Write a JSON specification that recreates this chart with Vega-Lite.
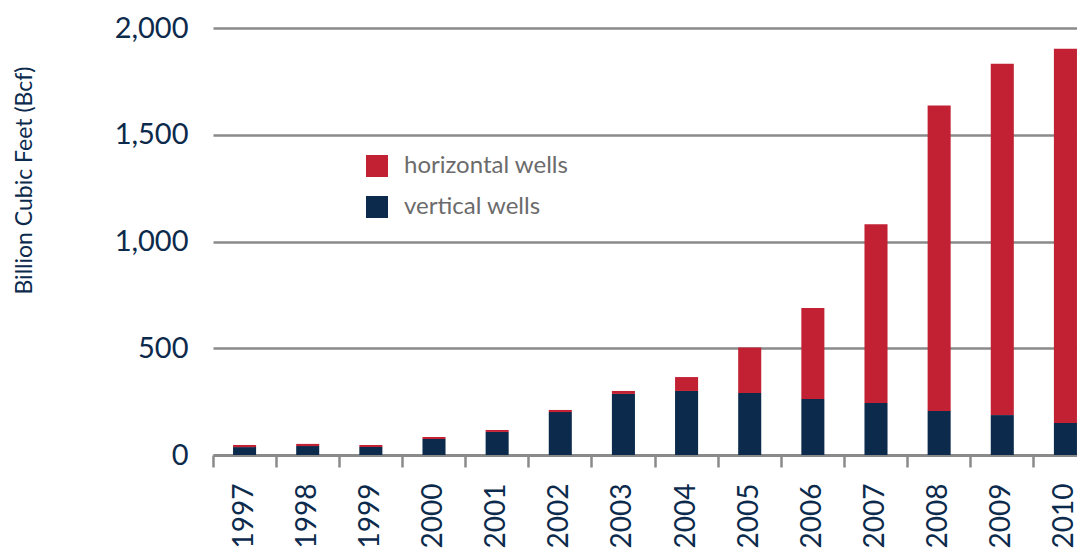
{
  "$schema": "https://vega.github.io/schema/vega-lite/v6.json",
  "autosize": {"type": "none"},
  "padding": {"left": 213, "top": 28, "right": 0, "bottom": 103},
  "width": 864,
  "height": 427,
  "background": "white",
  "data": {
    "values": [
      {"year": "1997", "type": "vertical wells", "bcf": 37},
      {"year": "1997", "type": "horizontal wells", "bcf": 10},
      {"year": "1998", "type": "vertical wells", "bcf": 42},
      {"year": "1998", "type": "horizontal wells", "bcf": 10},
      {"year": "1999", "type": "vertical wells", "bcf": 37},
      {"year": "1999", "type": "horizontal wells", "bcf": 10},
      {"year": "2000", "type": "vertical wells", "bcf": 75},
      {"year": "2000", "type": "horizontal wells", "bcf": 9},
      {"year": "2001", "type": "vertical wells", "bcf": 108},
      {"year": "2001", "type": "horizontal wells", "bcf": 9},
      {"year": "2002", "type": "vertical wells", "bcf": 201},
      {"year": "2002", "type": "horizontal wells", "bcf": 10},
      {"year": "2003", "type": "vertical wells", "bcf": 286},
      {"year": "2003", "type": "horizontal wells", "bcf": 14},
      {"year": "2004", "type": "vertical wells", "bcf": 300},
      {"year": "2004", "type": "horizontal wells", "bcf": 65},
      {"year": "2005", "type": "vertical wells", "bcf": 290},
      {"year": "2005", "type": "horizontal wells", "bcf": 213},
      {"year": "2006", "type": "vertical wells", "bcf": 262},
      {"year": "2006", "type": "horizontal wells", "bcf": 427},
      {"year": "2007", "type": "vertical wells", "bcf": 244},
      {"year": "2007", "type": "horizontal wells", "bcf": 837},
      {"year": "2008", "type": "vertical wells", "bcf": 206},
      {"year": "2008", "type": "horizontal wells", "bcf": 1431},
      {"year": "2009", "type": "vertical wells", "bcf": 187},
      {"year": "2009", "type": "horizontal wells", "bcf": 1646},
      {"year": "2010", "type": "vertical wells", "bcf": 150},
      {"year": "2010", "type": "horizontal wells", "bcf": 1753}
    ]
  },
  "mark": {"type": "bar", "width": {"band": 0.365}},
  "encoding": {
    "x": {
      "field": "year",
      "type": "ordinal",
      "scale": {"range": [0, 884], "paddingInner": 0, "paddingOuter": 0},
      "axis": {
        "title": null,
        "bandPosition": 0,
        "labelAngle": -90,
        "labelAlign": "right",
        "labelBaseline": "middle",
        "labelPadding": 16,
        "labelFont": "Lato",
        "labelFontSize": 28,
        "labelColor": "#0c2a4c",
        "tickSize": 12,
        "tickWidth": 2.5,
        "tickColor": "#8a8a8a",
        "domainColor": "#8a8a8a",
        "domainWidth": 3,
        "grid": false
      }
    },
    "y": {
      "field": "bcf",
      "type": "quantitative",
      "stack": "zero",
      "scale": {"domain": [0, 2000], "nice": false},
      "axis": {
        "title": "Billion Cubic Feet (Bcf)",
        "titleFont": "Lato",
        "titleFontSize": 23,
        "titleFontWeight": "normal",
        "titleColor": "#0c2a4c",
        "titleAngle": -90,
        "titleAlign": "center",
        "titleBaseline": "middle",
        "titleX": -189,
        "titleY": 152,
        "values": [0, 500, 1000, 1500, 2000],
        "format": ",d",
        "labelFont": "Lato",
        "labelFontSize": 29,
        "labelColor": "#0c2a4c",
        "labelPadding": 25,
        "ticks": false,
        "domain": false,
        "grid": true,
        "gridColor": "#8a8a8a",
        "gridWidth": 2.5
      }
    },
    "color": {
      "field": "type",
      "type": "nominal",
      "scale": {
        "domain": ["horizontal wells", "vertical wells"],
        "range": ["#c22033", "#0c2a4c"]
      },
      "legend": {
        "title": null,
        "orient": "none",
        "legendX": 152,
        "legendY": 126,
        "padding": 0,
        "symbolType": "square",
        "symbolSize": 484,
        "symbolStrokeWidth": 0,
        "symbolOpacity": 1,
        "labelFont": "Lato",
        "labelFontSize": 24,
        "labelColor": "#6b6b6b",
        "labelOffset": 15,
        "labelLimit": 0,
        "rowPadding": 17
      }
    },
    "order": {"field": "type", "sort": "descending"}
  },
  "config": {
    "view": {"stroke": null},
    "axis": {"labelLimit": 0}
  }
}
